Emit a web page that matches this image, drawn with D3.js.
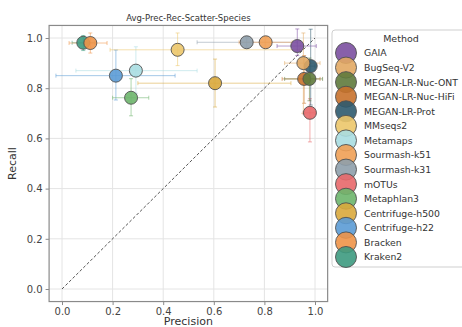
<!DOCTYPE html>
<html>
<head>
<meta charset="utf-8">
<script src="https://cdn.jsdelivr.net/npm/d3@7"></script>
<style>
  html, body { margin: 0; padding: 0; background: #fff; }
  svg { display: block; font-family: "DejaVu Sans", sans-serif; }
</style>
</head>
<body>
<svg id="chart" width="462" height="327"></svg>
<script>
// Average precision / recall per method (species level)
const methods = ["GAIA", "BugSeq-V2", "MEGAN-LR-Nuc-ONT", "MEGAN-LR-Nuc-HiFi", "MEGAN-LR-Prot",
  "MMseqs2", "Metamaps", "Sourmash-k51", "Sourmash-k31", "mOTUs", "Metaphlan3",
  "Centrifuge-h500", "Centrifuge-h22", "Bracken", "Kraken2"];
const colors = ["#7b4fa0", "#e2a963", "#5f7a3c", "#c8712b", "#2d5a6e",
  "#ecc76a", "#a9dde1", "#f0a055", "#8e9eab", "#e8686a", "#6db56b",
  "#d9a93c", "#5b9bd5", "#ee9348", "#3d9a7f"];
const precision = [0.930, 0.954, 0.978, 0.957, 0.983, 0.457, 0.292, 0.805, 0.730, 0.980, 0.273, 0.605, 0.213, 0.112, 0.084];
const recall    = [0.968, 0.900, 0.837, 0.837, 0.888, 0.953, 0.870, 0.983, 0.983, 0.702, 0.762, 0.820, 0.850, 0.980, 0.981];
// error-bar extents (lower / upper)
const precLo = [0.850, 0.880, 0.880, 0.870, 0.960, 0.190, 0.055, 0.700, 0.534, 0.953, 0.200, 0.300, -0.024, 0.028, 0.040];
const precHi = [1.005, 1.020, 1.030, 1.020, 1.000, 0.940, 0.534, 0.910, 0.930, 1.003, 0.343, 0.905, 0.447, 0.178, 0.130];
const recLo  = [0.930, 0.700, 0.750, 0.740, 0.733, 0.890, 0.780, 0.960, 0.960, 0.586, 0.690, 0.725, 0.753, 0.940, 0.950];
const recHi  = [1.036, 1.020, 0.920, 0.930, 1.035, 1.020, 0.965, 1.005, 1.005, 0.758, 0.838, 0.916, 0.952, 1.020, 1.010];
const ticks = [0.0, 0.2, 0.4, 0.6, 0.8, 1.0];

const data = methods.map((m, i) => ({
  method: m, color: colors[i], p: precision[i], r: recall[i],
  pLo: precLo[i], pHi: precHi[i], rLo: recLo[i], rHi: recHi[i]
}));

const svg = d3.select("#chart");
const x = d3.scaleLinear().domain([0, 1]).range([62, 315]);
const y = d3.scaleLinear().domain([0, 1]).range([289, 38]);
const x0 = x(-0.051), x1 = x(1.05), y0 = y(-0.05), y1 = y(1.05);

// grid
const grid = svg.append("g");
grid.selectAll(".gx").data(ticks).join("line")
  .attr("x1", d => x(d)).attr("x2", d => x(d)).attr("y1", y1).attr("y2", y0)
  .attr("stroke", "#e4e4e4").attr("stroke-width", 1);
grid.selectAll(".gy").data(ticks).join("line")
  .attr("y1", d => y(d)).attr("y2", d => y(d)).attr("x1", x0).attr("x2", x1)
  .attr("stroke", "#e4e4e4").attr("stroke-width", 1);

// diagonal reference
svg.append("line")
  .attr("x1", x(0)).attr("y1", y(0)).attr("x2", x(1)).attr("y2", y(1))
  .attr("stroke", "#555").attr("stroke-width", 1).attr("stroke-dasharray", "3,2");

// error bars and points, drawn bottom-up through the legend order
const order = data.slice().reverse();
const eb = svg.append("g");
order.forEach(d => {
  const g = eb.append("g").attr("stroke", d.color).attr("stroke-opacity", 0.55).attr("stroke-width", 1);
  g.append("line").attr("x1", x(d.pLo)).attr("x2", x(d.pHi)).attr("y1", y(d.r)).attr("y2", y(d.r));
  g.append("line").attr("x1", x(d.p)).attr("x2", x(d.p)).attr("y1", y(d.rLo)).attr("y2", y(d.rHi));
  [d.pLo, d.pHi].forEach(v => g.append("line").attr("x1", x(v)).attr("x2", x(v)).attr("y1", y(d.r) - 2).attr("y2", y(d.r) + 2));
  [d.rLo, d.rHi].forEach(v => g.append("line").attr("y1", y(v)).attr("y2", y(v)).attr("x1", x(d.p) - 2).attr("x2", x(d.p) + 2));
});
svg.append("g").selectAll("circle").data(order).join("circle")
  .attr("cx", d => x(d.p)).attr("cy", d => y(d.r)).attr("r", 6.5)
  .attr("fill", d => d.color).attr("fill-opacity", 0.9)
  .attr("stroke", "#505050").attr("stroke-width", 0.9);

// frame
svg.append("rect").attr("x", x0).attr("y", y1).attr("width", x1 - x0).attr("height", y0 - y1)
  .attr("fill", "none").attr("stroke", "#8a8a8a").attr("stroke-width", 1.2);

// axes
const xAxis = svg.append("g").attr("transform", `translate(0,${y0})`)
  .call(d3.axisBottom(x).tickValues(ticks).tickFormat(d3.format(".1f")).tickSize(3.5).tickPadding(3));
const yAxis = svg.append("g").attr("transform", `translate(${x0},0)`)
  .call(d3.axisLeft(y).tickValues(ticks).tickFormat(d3.format(".1f")).tickSize(3.5).tickPadding(3));
[xAxis, yAxis].forEach(a => {
  a.select(".domain").remove();
  a.selectAll(".tick line").attr("stroke", "#8a8a8a");
  a.selectAll(".tick text").attr("fill", "#444").attr("font-size", 10)
    .attr("font-family", "DejaVu Sans, sans-serif");
});

// titles
svg.append("text").attr("x", (x0 + x1) / 2).attr("y", 21).attr("text-anchor", "middle")
  .attr("font-size", 8.5).attr("fill", "#333").text("Avg-Prec-Rec-Scatter-Species");
svg.append("text").attr("x", (x0 + x1) / 2).attr("y", 325).attr("text-anchor", "middle")
  .attr("font-size", 11).attr("fill", "#333").text("Precision");
svg.append("text").attr("transform", `translate(16,${(y0 + y1) / 2}) rotate(-90)`)
  .attr("text-anchor", "middle").attr("font-size", 11).attr("fill", "#333").text("Recall");

// legend
const lg = svg.append("g");
lg.append("rect").attr("x", 332).attr("y", 30).attr("width", 160).attr("height", 237).attr("rx", 3)
  .attr("fill", "#fff").attr("stroke", "#cfcfcf").attr("stroke-width", 1);
lg.append("text").attr("x", 401).attr("y", 41.5).attr("text-anchor", "middle")
  .attr("font-size", 9.5).attr("fill", "#333").text("Method");
const rows = lg.selectAll(".row").data(data).join("g")
  .attr("transform", (d, i) => `translate(0,${53 + i * 14.57})`);
rows.append("circle").attr("cx", 346).attr("cy", 0).attr("r", 10.5)
  .attr("fill", d => d.color).attr("fill-opacity", 0.9)
  .attr("stroke", "#505050").attr("stroke-width", 0.9);
rows.append("text").attr("x", 364).attr("y", 3.4).attr("font-size", 9.3).attr("fill", "#333")
  .text(d => d.method);
</script>
</body>
</html>
